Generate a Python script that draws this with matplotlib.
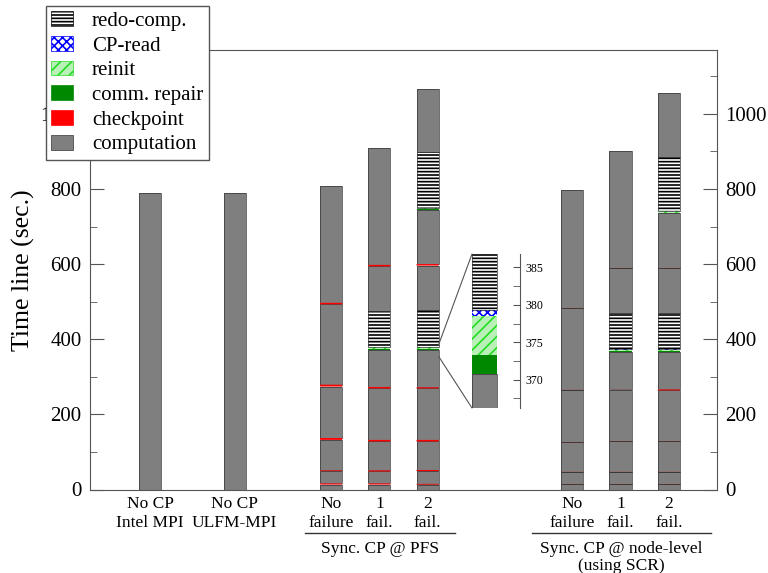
import matplotlib
matplotlib.use("Agg")
import matplotlib.pyplot as plt
from matplotlib.patches import Patch, ConnectionPatch
from matplotlib.ticker import MultipleLocator

plt.rcParams["font.family"] = ["Liberation Serif", "DejaVu Serif"]
plt.rcParams["hatch.linewidth"] = 1.2

# bar positions and x labels
BAR_POS = [1.25, 3, 5, 6, 7, 10, 11, 12]
BAR_LABELS = ["No CP\nIntel MPI", "No CP\nULFM-MPI",
              "No\nfailure", "1\nfail.", "2\nfail.",
              "No\nfailure", "1\nfail.", "2\nfail."]

GROUP_LABELS = ["Sync. CP @ PFS", "Sync. CP @ node-level\n(using SCR)"]
GROUP_SPANS = [(4.46, 7.57), (9.16, 12.88)]

# segments of every bar, bottom to top: kind and duration (sec.)
intel_kinds = ["comp"]
intel_secs = [788]

ulfm_kinds = ["comp"]
ulfm_secs = [790]

pfs0_kinds = ["comp", "ckpt", "comp", "ckpt", "comp", "ckpt", "comp", "ckpt",
              "comp", "ckpt", "comp"]
pfs0_secs = [13, 3, 33, 2, 81, 5, 137, 5, 214, 4, 310]

pfs1_kinds = ["comp", "ckpt", "comp", "ckpt", "comp", "ckpt", "comp", "ckpt",
              "comp", "repair", "reinit", "read", "redo", "comp", "ckpt", "comp"]
pfs1_secs = [13, 3, 32, 3, 77, 4, 137, 4, 97.75, 2.55, 5.2, 0.75, 94.75,
             120, 4, 312]

pfs2_kinds = ["comp", "ckpt", "comp", "ckpt", "comp", "ckpt", "comp", "ckpt",
              "comp", "repair", "reinit", "read", "redo", "comp", "ckpt", "comp",
              "repair", "reinit", "read", "redo", "comp"]
pfs2_secs = [13, 2, 34, 3, 76, 4, 137, 3, 98.75, 2.55, 5.2, 0.75, 97.75,
             119, 4, 144, 1.5, 4, 1, 147.5, 167]

scr0_kinds = ["comp", "ckpt", "comp", "ckpt", "comp", "ckpt", "comp", "ckpt",
              "comp", "ckpt", "comp"]
scr0_secs = [14, 0.3, 32.7, 0.3, 78.7, 0.3, 139, 0.3, 217, 0.3, 314.1]

scr1_kinds = ["comp", "ckpt", "comp", "ckpt", "comp", "ckpt", "comp", "ckpt",
              "comp", "repair", "reinit", "read", "redo", "comp", "ckpt", "comp"]
scr1_secs = [14, 0.3, 32.7, 0.3, 80.7, 0.3, 137.7, 0.3, 98.7, 2.5, 5, 0.5,
             97, 119, 0.3, 310.7]

scr2_kinds = ["comp", "ckpt", "comp", "ckpt", "comp", "ckpt", "comp", "ckpt",
              "comp", "repair", "reinit", "read", "redo", "comp", "ckpt", "comp",
              "repair", "reinit", "read", "redo", "comp"]
scr2_secs = [14, 0.3, 32.7, 0.3, 80.7, 0.3, 135.5, 2.5, 98.7, 2.5, 5, 0.5,
             97, 119, 0.3, 145.7, 1.5, 4, 0.5, 145, 169]

BARS = [(intel_kinds, intel_secs), (ulfm_kinds, ulfm_secs),
        (pfs0_kinds, pfs0_secs), (pfs1_kinds, pfs1_secs), (pfs2_kinds, pfs2_secs),
        (scr0_kinds, scr0_secs), (scr1_kinds, scr1_secs), (scr2_kinds, scr2_secs)]

# legend order (top to bottom)
LEGEND_KINDS = ["redo", "read", "reinit", "repair", "ckpt", "comp"]
LEGEND_LABELS = ["redo-comp.", "CP-read", "reinit", "comm. repair",
                 "checkpoint", "computation"]

# kind -> (face colour, hatch, hatch colour, outline colour or None)
STYLE = {
    "comp": ("#7f7f7f", None, None, "#333333"),
    "ckpt": ("#ff0000", None, None, None),
    "repair": ("#008800", None, None, None),
    "reinit": ("#b8f0b8", "///", "#22dd22", None),
    "read": ("white", "xxxx", "#0000ff", None),
    "redo": ("white", "-----", "black", "#333333"),
}
WIDTH = 0.46


def draw_bar(ax, x, kinds, secs, width, align="center"):
    bottom = 0
    for kind, dur in zip(kinds, secs):
        face, hatch, hcol, edge = STYLE[kind]
        if hatch:
            ax.bar(x, dur, width, bottom=bottom, color=face, edgecolor=hcol,
                   hatch=hatch, linewidth=0, align=align, zorder=2)
        elif kind == "ckpt":
            # thin red slices go above the outlines, unsnapped so they never vanish
            rects = ax.bar(x, dur, width, bottom=bottom, color=face,
                           linewidth=0, align=align, zorder=3)
            for r in rects:
                r.set_snap(False)
        else:
            ax.bar(x, dur, width, bottom=bottom, color=face, linewidth=0,
                   align=align, zorder=2)
        if edge:
            ax.bar(x, dur, width, bottom=bottom, fill=False, edgecolor=edge,
                   linewidth=0.5, align=align, zorder=2)
        bottom += dur


fig = plt.figure(figsize=(7.68, 5.73), dpi=100)
ax = fig.add_axes([90 / 768, 1 - 489.5 / 573, 627 / 768, 439.5 / 573])

for x, (kinds, secs) in zip(BAR_POS, BARS):
    draw_bar(ax, x, kinds, secs, WIDTH)

ax.set_xlim(0, 13)
ax.set_ylim(0, 1170)
ax.set_xticks(BAR_POS, BAR_LABELS, fontsize=12.5)
ax.tick_params(axis="x", length=0, pad=5)
ax.yaxis.set_major_locator(MultipleLocator(200))
ax.yaxis.set_minor_locator(MultipleLocator(100))
ax.tick_params(axis="y", which="both", direction="in", left=True, right=True,
               labelleft=True, labelright=True, labelsize=15, color="#555555")
ax.tick_params(axis="y", which="major", length=10, pad=6)
ax.tick_params(axis="y", which="minor", length=5)
for sp in ax.spines.values():
    sp.set_color("#555555")
ax.set_ylabel("Time line (sec.)", fontsize=18.5, labelpad=4)

# the legend hides the left 1000 label
for tick in ax.yaxis.get_major_ticks():
    if tick.get_loc() >= 1000:
        tick.label1.set_visible(False)

# group labels with underline
for label, (x0, x1) in zip(GROUP_LABELS, GROUP_SPANS):
    ax.plot([x0, x1], [-0.099, -0.099], color="#333333", lw=1,
            transform=ax.get_xaxis_transform(), clip_on=False)
    ax.text((x0 + x1) / 2, -0.117, label, ha="center", va="top",
            fontsize=12.5, transform=ax.get_xaxis_transform(),
            linespacing=1.1)

# zoomed inset of the first failure in the PFS 2-failure run
ax_in = fig.add_axes([472 / 768, 1 - 408 / 573, 48 / 768, 154 / 573])
draw_bar(ax_in, 0, pfs2_kinds, pfs2_secs, 1, align="edge")
ax_in.set_xlim(0, 48 / 25)
ax_in.set_ylim(366.2, 386.8)
for side in ["left", "top", "bottom"]:
    ax_in.spines[side].set_visible(False)
ax_in.spines["right"].set_color("#555555")
ax_in.set_xticks([])
ax_in.patch.set_alpha(0)
ax_in.yaxis.tick_right()
ax_in.yaxis.set_major_locator(MultipleLocator(5))
ax_in.yaxis.set_minor_locator(MultipleLocator(2.5))
ax_in.tick_params(axis="y", which="both", direction="in", length=5,
                  labelsize=8.5, color="#555555", pad=4)

for y_main, y_in in [(386, 1), (354, 0)]:
    con = ConnectionPatch(xyA=(7 + WIDTH / 2, y_main), coordsA=ax.transData,
                          xyB=(0, y_in), coordsB=ax_in.transAxes,
                          color="#555555", lw=0.8)
    fig.add_artist(con)

handles = []
for kind in LEGEND_KINDS:
    face, hatch, hcol, edge = STYLE[kind]
    if hatch:
        handles.append(Patch(facecolor=face, edgecolor=hcol, hatch=hatch,
                             linewidth=0.5))
    else:
        handles.append(Patch(facecolor=face, edgecolor=edge or face,
                             linewidth=0.5))
leg = fig.legend(handles, LEGEND_LABELS, loc="upper left",
                 bbox_to_anchor=(46 / 768, 1 - 6 / 573), borderaxespad=0,
                 fontsize=15, frameon=True, fancybox=False, framealpha=1,
                 edgecolor="#555555", handlelength=1.06, handleheight=0.72,
                 handletextpad=0.9, labelspacing=0.24, borderpad=0.25)
leg.get_frame().set_linewidth(1)

fig.savefig("out.png", dpi=100)
